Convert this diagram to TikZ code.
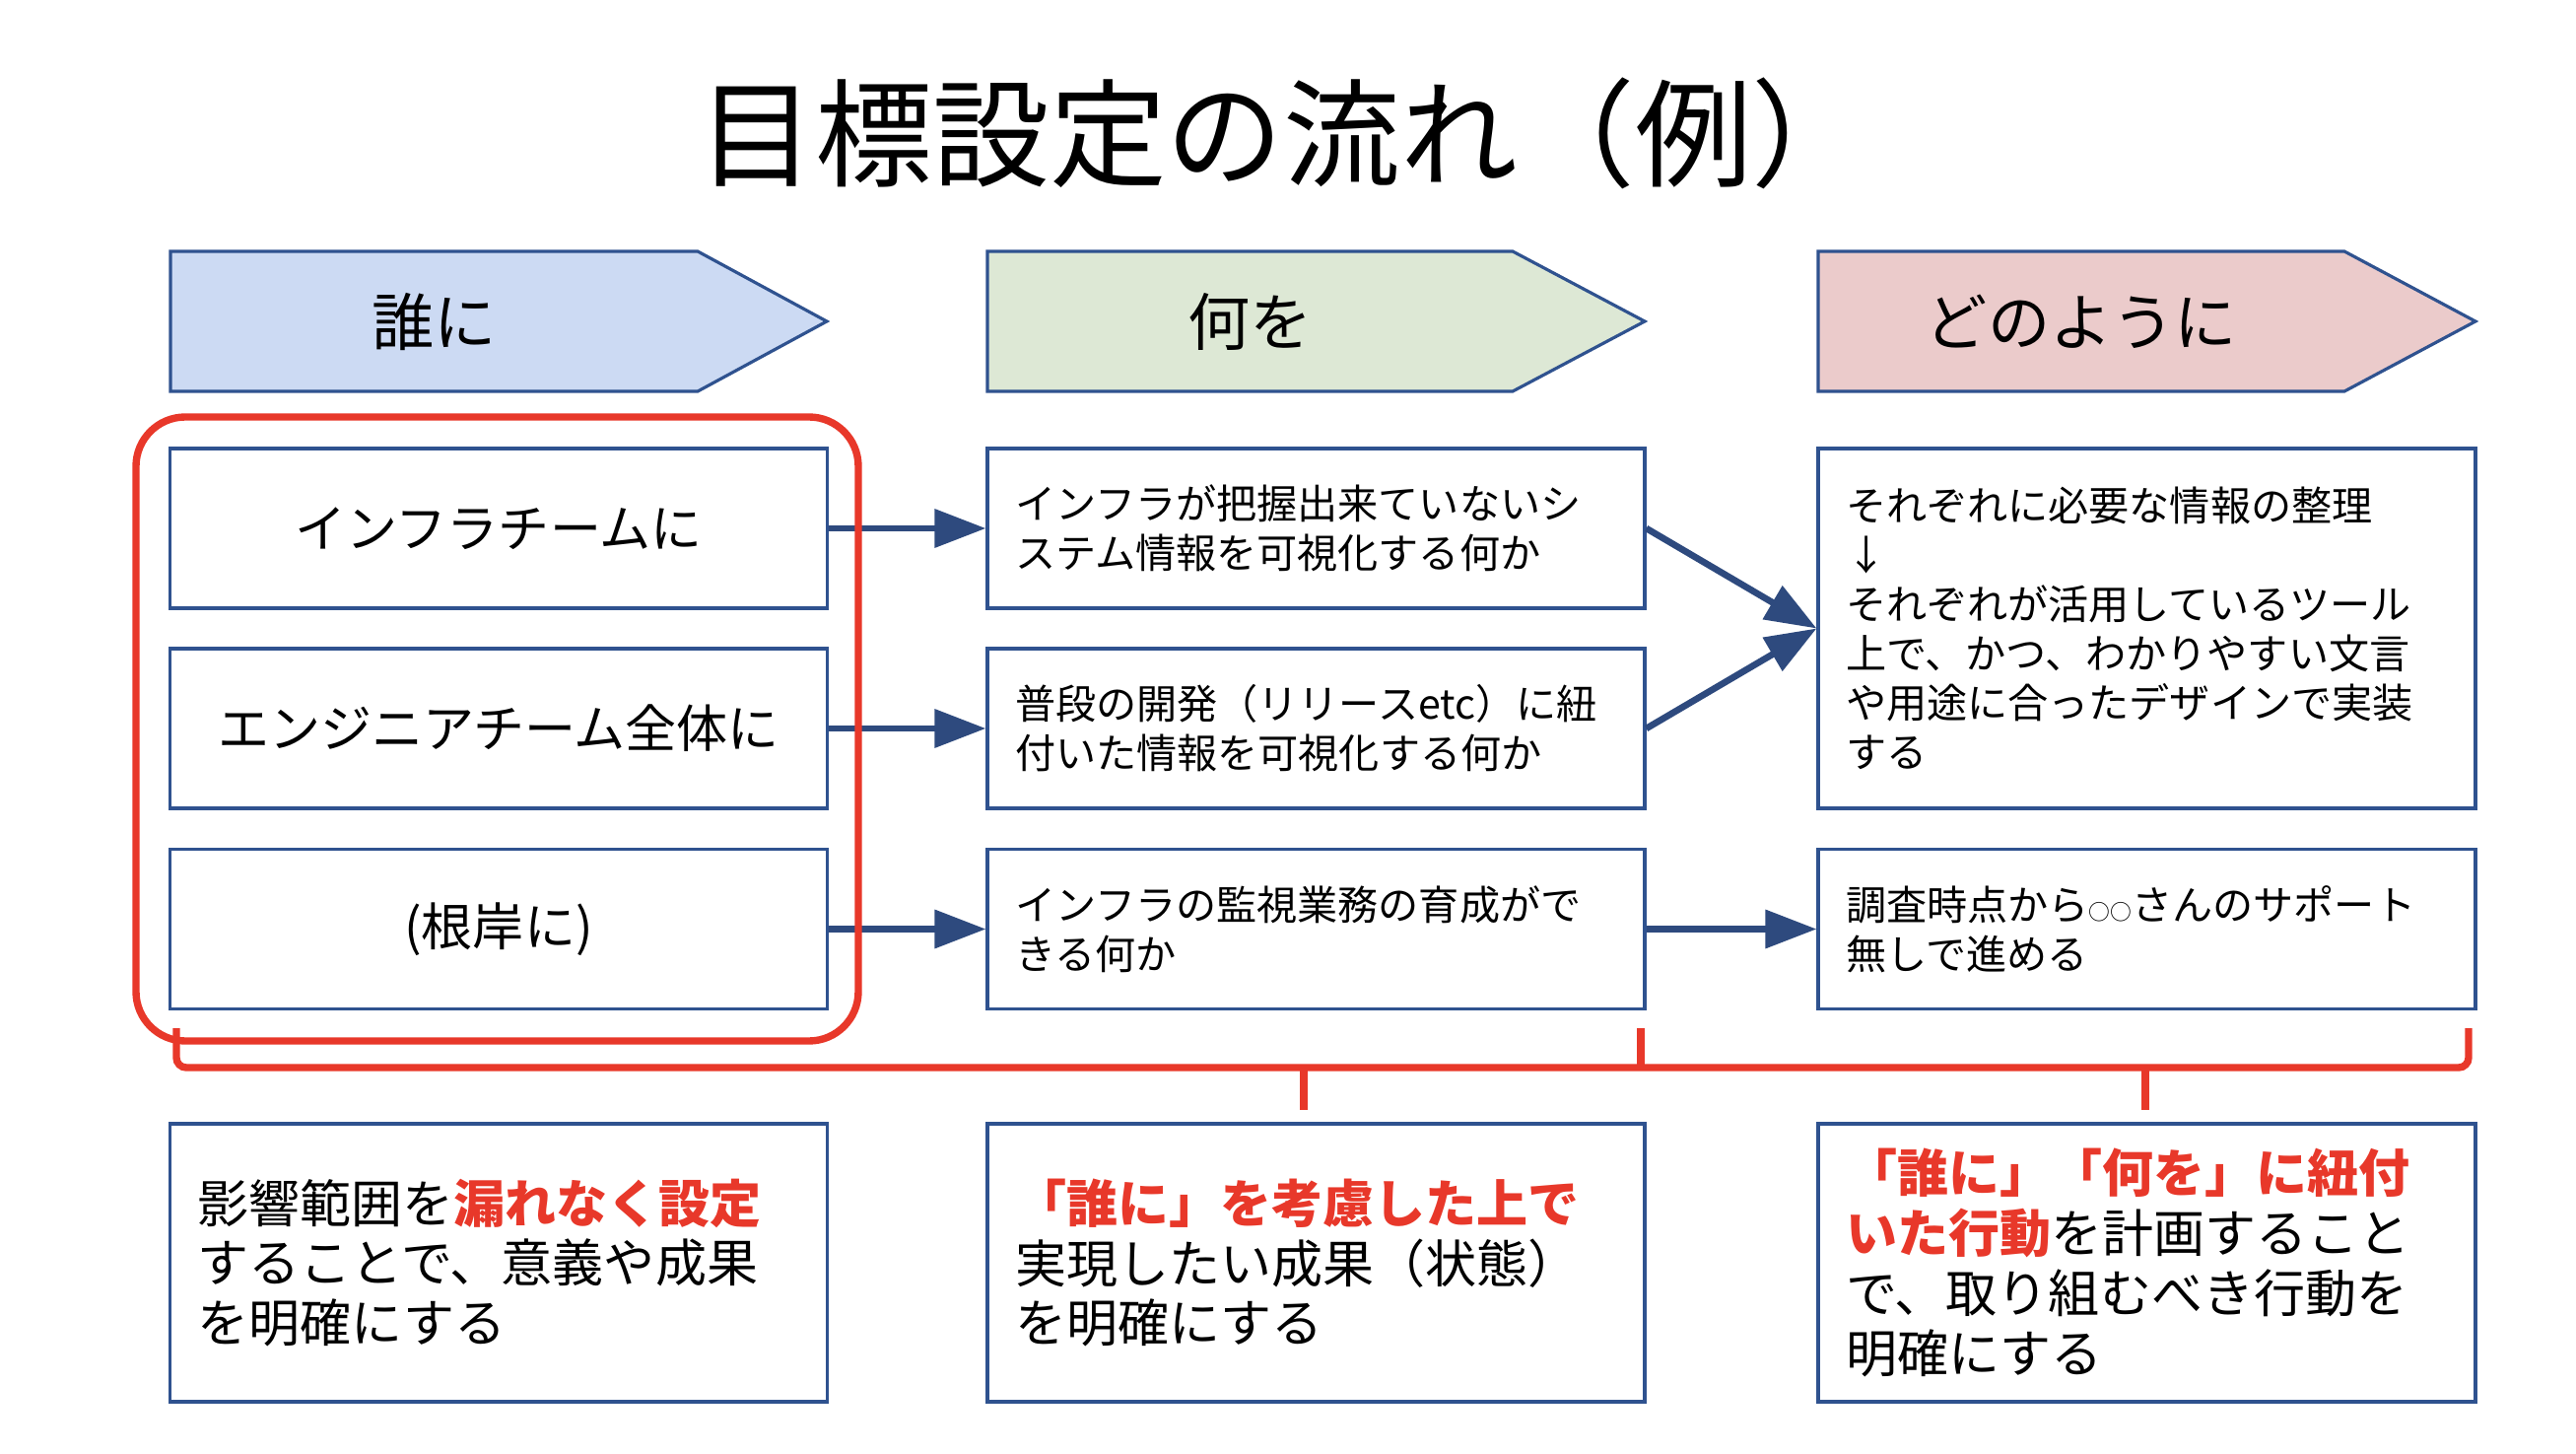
\documentclass[tikz,border=0pt]{standalone}
\usepackage{fontspec}
\setmainfont{Noto Sans CJK JP}
\usetikzlibrary{arrows.meta}

\definecolor{boxline}{HTML}{2F528F}
\definecolor{flowblue}{HTML}{2E4A7E}
\definecolor{markred}{HTML}{E8382A}
\definecolor{whofill}{HTML}{CCDAF3}
\definecolor{whatfill}{HTML}{DDE8D5}
\definecolor{howfill}{HTML}{EBCBCB}

\newcommand{\hl}[1]{{\color{markred}\bfseries #1}}

\begin{document}
\begin{tikzpicture}[
    headline/.style={draw=boxline, line width=0.9pt},
    headtext/.style={inner sep=0pt, font=\fontsize{18pt}{22pt}\selectfont},
    box/.style={draw=boxline, line width=0.9pt, fill=white, inner xsep=0.28cm, inner ysep=0pt,
        text width=6.11cm, align=left},
    rowbox/.style={box, minimum height=1.62cm, align=center, font=\fontsize{14.8pt}{17pt}\selectfont},
    midbox/.style={box, minimum height=1.62cm, font=\fontsize{11.7pt}{14.2pt}\selectfont},
    notebox/.style={box, minimum height=2.82cm, font=\fontsize{14.8pt}{17.3pt}\selectfont},
    flow/.style={draw=flowblue, line width=1.9pt, -{Triangle[length=0.52cm, width=0.38cm]}},
    redline/.style={draw=markred, line width=2.1pt}
]
    \useasboundingbox (0,0) rectangle (26.14,14.74);

    % Title
    \node[inner sep=0pt, anchor=west] (title) at (7.08,13.39) {\fontsize{33.8pt}{38pt}\selectfont 目標設定の流れ（例）};

    % Header arrows
    \draw[headline, fill=whofill] (1.73,12.19) -- (7.08,12.19) -- (8.39,11.48) -- (7.08,10.77) -- (1.73,10.77) -- cycle;
    \node[headtext] (whom) at (4.405,11.48) {誰に};

    \draw[headline, fill=whatfill] (10.02,12.19) -- (15.35,12.19) -- (16.69,11.48) -- (15.35,10.77) -- (10.02,10.77) -- cycle;
    \node[headtext] (what) at (12.685,11.48) {何を};

    \draw[headline, fill=howfill] (18.45,12.19) -- (23.79,12.19) -- (25.12,11.48) -- (23.79,10.77) -- (18.45,10.77) -- cycle;
    \node[headtext] (how) at (21.12,11.48) {どのように};

    % Who
    \node[rowbox] (who1) at (5.06,9.38) {インフラチームに};
    \node[rowbox] (who2) at (5.06,7.35) {エンジニアチーム全体に};
    \node[rowbox] (who3) at (5.06,5.315) {(根岸に)};

    % What
    \node[midbox] (what1) at (13.355,9.38) {インフラが把握出来ていないシ\\ステム情報を可視化する何か};
    \node[midbox] (what2) at (13.355,7.35) {普段の開発（リリースetc）に紐\\付いた情報を可視化する何か};
    \node[midbox] (what3) at (13.355,5.315) {インフラの監視業務の育成がで\\きる何か};

    % How
    \node[midbox, minimum height=3.65cm] (how1) at (21.785,8.365) {それぞれに必要な情報の整理\\↓\\それぞれが活用しているツール\\上で、かつ、わかりやすい文言\\や用途に合ったデザインで実装\\する};
    \node[midbox] (how3) at (21.785,5.315) {調査時点から{\fontsize{6.2pt}{6pt}\selectfont ○○}さんのサポート\\無しで進める};

    % Arrows
    \draw[flow] (who1) -- (what1);
    \draw[flow] (who2) -- (what2);
    \draw[flow] (who3) -- (what3);
    \draw[flow] (what1.east) -- (how1.west);
    \draw[flow] (what2.east) -- (how1.west);
    \draw[flow] (what3) -- (how3);

    % Group frame
    \draw[redline, rounded corners=0.5cm] (1.38,10.51) rectangle (8.71,4.18);

    % Brackets
    \draw[redline, rounded corners=0.1cm] (1.79,4.31) -- (1.79,3.91) -- (25.05,3.91) -- (25.05,4.31);
    \draw[redline] (16.65,4.31) -- (16.65,3.91);
    \draw[redline] (13.23,3.91) -- (13.23,3.48);
    \draw[redline] (21.77,3.91) -- (21.77,3.48);

    % Notes
    \node[notebox] (note1) at (5.06,1.93) {影響範囲を\hl{漏れなく設定}\\することで、意義や成果\\を明確にする};
    \node[notebox] (note2) at (13.355,1.93) {\hl{「誰に」を考慮した上で}\\実現したい成果（状態）\\を明確にする};
    \node[notebox] (note3) at (21.785,1.93) {\hl{「誰に」「何を」に紐付}\\\hl{いた行動}を計画すること\\で、取り組むべき行動を\\明確にする};

\end{tikzpicture}
\end{document}
